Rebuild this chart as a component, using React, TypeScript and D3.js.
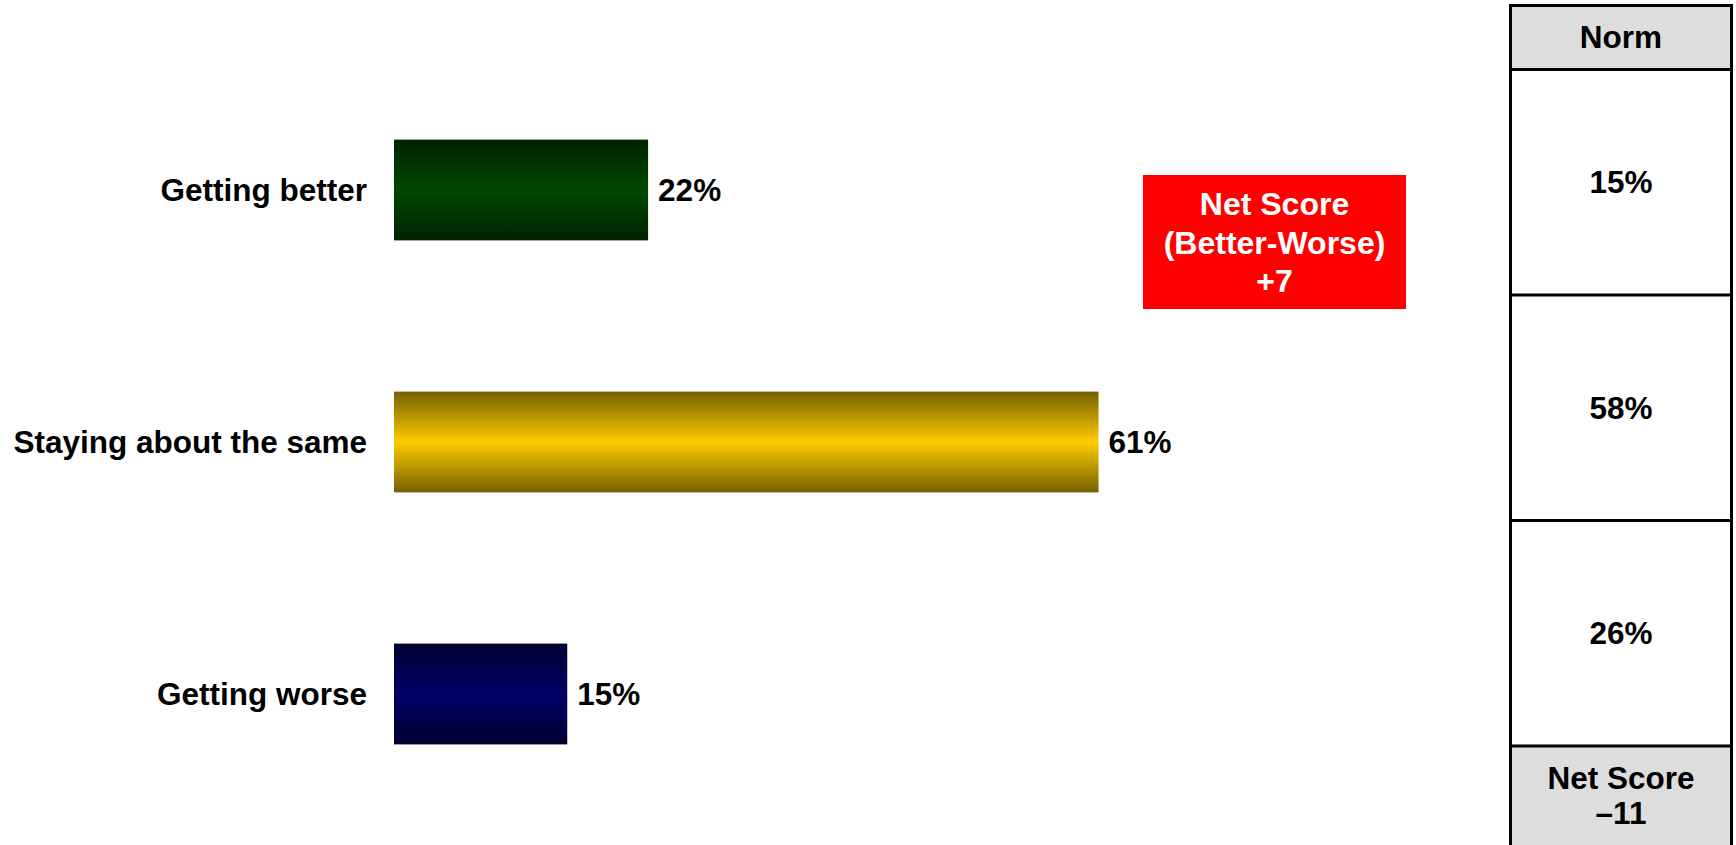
import React from "react";
import * as d3 from "d3";

const categories = ["Getting better", "Staying about the same", "Getting worse"];
const values = [22, 61, 15];
const normValues = [15, 58, 26];
const normHeader = "Norm";
const netLabelLines = ["Net Score", "(Better-Worse)"];
const normNetLabel = "Net Score";

const gradients = [
  { id: "gGreen", edge: "#002200", mid: "#004800" },
  { id: "gYellow", edge: "#756000", mid: "#ffcc00" },
  { id: "gBlue", edge: "#000030", mid: "#000068" },
];

const W = 1736;
const H = 845;
const FONT = "'Liberation Sans', Arial, Helvetica, sans-serif";
const FS = 31.5;

function fmtSigned(v: number) {
  if (v > 0) return "+" + v;
  if (v < 0) return "\u2013" + Math.abs(v);
  return "0";
}

export default function App() {
  const x = d3.scaleLinear().domain([0, 100]).range([394, 394 + 1155]);
  const y = d3
    .scaleBand<string>()
    .domain(categories)
    .range([64, 820])
    .paddingInner(0.6)
    .paddingOuter(0.3);

  const net = values[0] - values[2];
  const normNet = normValues[0] - normValues[2];

  // table geometry
  const tL = 1510.5;
  const tR = 1731.5;
  const tTop = 5.5;
  const hdrBottom = 69.5;
  const rowScale = d3
    .scaleBand<string>()
    .domain(categories)
    .range([hdrBottom, 746]);
  const tCx = (tL + tR) / 2;

  const boxX = 1143;
  const boxY = 175;
  const boxW = 263;
  const boxH = 134;
  const boxCx = boxX + boxW / 2;

  return (
    <svg
      width={W}
      height={H}
      style={{ position: "absolute", left: 0, top: 0, background: "#fff" }}
      fontFamily={FONT}
    >
      <defs>
        {gradients.map((g) => (
          <linearGradient key={g.id} id={g.id} x1="0" y1="0" x2="0" y2="1">
            <stop offset="0%" stopColor={g.edge} />
            <stop offset="50%" stopColor={g.mid} />
            <stop offset="100%" stopColor={g.edge} />
          </linearGradient>
        ))}
      </defs>
      <rect x={0} y={0} width={W} height={H} fill="#fff" />

      {categories.map((c, i) => {
        const y0 = y(c)!;
        const bw = y.bandwidth();
        const cy = y0 + bw / 2;
        return (
          <g key={c}>
            <rect
              x={x(0)}
              y={y0}
              width={x(values[i]) - x(0)}
              height={bw}
              fill={`url(#${gradients[i].id})`}
            />
            <text
              x={367}
              y={cy + 11}
              textAnchor="end"
              fontSize={FS}
              fontWeight="bold"
              fill="#000"
            >
              {c}
            </text>
            <text
              x={x(values[i]) + 10}
              y={cy + 11}
              fontSize={FS}
              fontWeight="bold"
              fill="#000"
            >
              {values[i] + "%"}
            </text>
          </g>
        );
      })}

      {/* Net score box */}
      <rect x={boxX} y={boxY} width={boxW} height={boxH} fill="#ff0000" />
      {[...netLabelLines, fmtSigned(net)].map((t, i) => (
        <text
          key={i}
          x={boxCx}
          y={215 + i * 38.5}
          textAnchor="middle"
          fontSize={32}
          fontWeight="bold"
          fill="#fff"
        >
          {t}
        </text>
      ))}

      {/* Norm table */}
      <rect x={tL} y={tTop} width={tR - tL} height={hdrBottom - tTop} fill="#dddddd" />
      <rect x={tL} y={746} width={tR - tL} height={H - 746 + 10} fill="#dddddd" />
      <text
        x={tCx}
        y={48}
        textAnchor="middle"
        fontSize={FS}
        fontWeight="bold"
        fill="#000"
      >
        {normHeader}
      </text>
      {categories.map((c, i) => {
        const cy = rowScale(c)! + rowScale.bandwidth() / 2;
        return (
          <text
            key={c}
            x={tCx}
            y={cy + 11}
            textAnchor="middle"
            fontSize={FS}
            fontWeight="bold"
            fill="#000"
          >
            {normValues[i] + "%"}
          </text>
        );
      })}
      <text x={tCx} y={789} textAnchor="middle" fontSize={FS} fontWeight="bold" fill="#000">
        {normNetLabel}
      </text>
      <text x={tCx} y={824} textAnchor="middle" fontSize={FS} fontWeight="bold" fill="#000">
        {fmtSigned(normNet)}
      </text>

      {/* borders */}
      <g stroke="#000" strokeWidth={3} fill="none">
        <line x1={tL} y1={tTop} x2={tR} y2={tTop} />
        <line x1={tL} y1={tTop - 1.5} x2={tL} y2={H + 5} />
        <line x1={tR} y1={tTop - 1.5} x2={tR} y2={H + 5} />
        <line x1={tL} y1={hdrBottom} x2={tR} y2={hdrBottom} />
        {categories.map((c) => (
          <line
            key={c}
            x1={tL}
            y1={rowScale(c)! + rowScale.bandwidth()}
            x2={tR}
            y2={rowScale(c)! + rowScale.bandwidth()}
          />
        ))}
      </g>
    </svg>
  );
}
